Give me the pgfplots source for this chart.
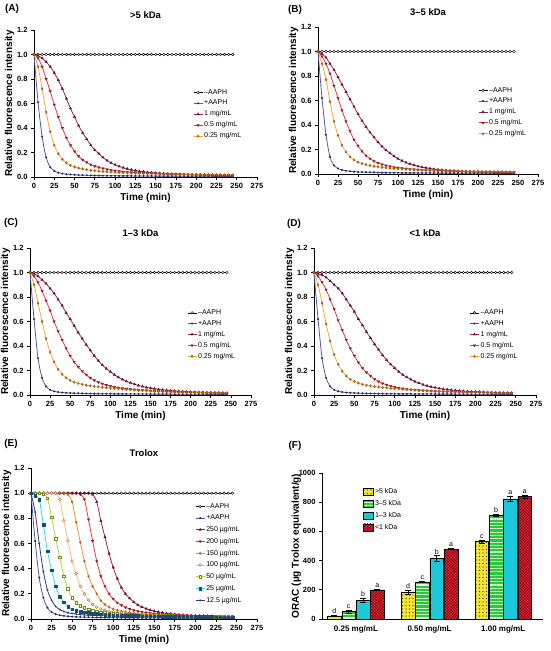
\documentclass[border=0pt]{standalone}
\usepackage{fontspec}
\setmainfont{Liberation Sans}
\usepackage{pgfplots}
\usepackage{pgfplotstable}
\pgfplotsset{compat=1.18}
\usetikzlibrary{patterns.meta}

\definecolor{cpos}{HTML}{5558A0}
\definecolor{cposm}{HTML}{2A2A60}
\definecolor{cone}{HTML}{A3205A}
\definecolor{conem}{HTML}{5C1030}
\definecolor{chalf}{HTML}{EE3340}
\definecolor{chalfm}{HTML}{8A1A20}
\definecolor{cqtr}{HTML}{F5A830}
\definecolor{cqtrm}{HTML}{A0602A}
\definecolor{c250}{HTML}{B5174F}
\definecolor{c250m}{HTML}{5C1030}
\definecolor{c200}{HTML}{EE3340}
\definecolor{c200m}{HTML}{8A1A20}
\definecolor{c150}{HTML}{F5902A}
\definecolor{c150m}{HTML}{C0641E}
\definecolor{c100}{HTML}{F8BC8C}
\definecolor{c100m}{HTML}{B8743A}
\definecolor{c50}{HTML}{B9D13C}
\definecolor{c50m}{HTML}{6E8C1E}
\definecolor{c25}{HTML}{30DDE8}
\definecolor{c25m}{HTML}{1F4A6A}
\definecolor{c12}{HTML}{243F78}
\definecolor{byel}{HTML}{F5E33A}
\definecolor{bgrn}{HTML}{2BC83C}
\definecolor{bcya}{HTML}{1BC9D9}
\definecolor{bred}{HTML}{E0283C}

\pgfplotstableread{
t neg pos one half qtr
0 1 1 1 1 1
5 1 0.61 0.99 0.97 0.90
10 1 0.33 0.97 0.90 0.72
15 1 0.16 0.94 0.80 0.53
20 1 0.08 0.90 0.70 0.37
25 1 0.05 0.85 0.59 0.26
30 1 0.035 0.79 0.49 0.19
35 1 0.028 0.72 0.40 0.145
40 1 0.023 0.64 0.32 0.115
45 1 0.020 0.56 0.26 0.095
50 1 0.018 0.49 0.21 0.082
55 1 0.016 0.42 0.17 0.073
60 1 0.015 0.36 0.14 0.066
65 1 0.014 0.31 0.12 0.060
70 1 0.013 0.26 0.10 0.055
75 1 0.012 0.22 0.088 0.051
80 1 0.011 0.19 0.078 0.048
85 1 0.011 0.16 0.070 0.045
90 1 0.010 0.135 0.063 0.043
95 1 0.010 0.115 0.057 0.041
100 1 0.010 0.100 0.052 0.039
105 1 0.009 0.087 0.048 0.037
110 1 0.009 0.076 0.044 0.035
115 1 0.009 0.067 0.041 0.034
120 1 0.009 0.059 0.038 0.032
125 1 0.008 0.053 0.036 0.031
130 1 0.008 0.047 0.034 0.030
135 1 0.008 0.043 0.032 0.029
140 1 0.008 0.039 0.030 0.028
145 1 0.008 0.036 0.029 0.027
150 1 0.007 0.033 0.027 0.026
155 1 0.007 0.031 0.026 0.025
160 1 0.007 0.029 0.025 0.024
165 1 0.007 0.027 0.024 0.024
170 1 0.007 0.025 0.023 0.023
175 1 0.007 0.024 0.022 0.022
180 1 0.006 0.023 0.021 0.022
185 1 0.006 0.022 0.020 0.021
190 1 0.006 0.021 0.020 0.021
195 1 0.006 0.020 0.019 0.020
200 1 0.006 0.019 0.018 0.020
205 1 0.006 0.018 0.018 0.019
210 1 0.006 0.018 0.017 0.019
215 1 0.006 0.017 0.017 0.018
220 1 0.005 0.016 0.016 0.018
225 1 0.005 0.016 0.016 0.018
230 1 0.005 0.015 0.015 0.017
235 1 0.005 0.015 0.015 0.017
240 1 0.005 0.014 0.015 0.017
245 1 0.005 0.014 0.014 0.016
}\tabA

\pgfplotstableread{
t neg pos one half qtr
0 1 1 1 1 1
5 1 0.62 0.98 0.96 0.90
10 1 0.32 0.95 0.90 0.77
15 1 0.14 0.90 0.82 0.59
20 1 0.07 0.85 0.72 0.43
25 1 0.045 0.79 0.62 0.315
30 1 0.032 0.73 0.52 0.235
35 1 0.026 0.67 0.43 0.18
40 1 0.022 0.61 0.35 0.14
45 1 0.019 0.55 0.28 0.115
50 1 0.017 0.49 0.23 0.097
55 1 0.016 0.435 0.185 0.085
60 1 0.015 0.385 0.15 0.076
65 1 0.014 0.34 0.125 0.069
70 1 0.013 0.30 0.105 0.063
75 1 0.012 0.26 0.090 0.058
80 1 0.011 0.225 0.078 0.054
85 1 0.011 0.195 0.069 0.050
90 1 0.010 0.17 0.062 0.047
95 1 0.010 0.145 0.056 0.045
100 1 0.010 0.125 0.051 0.043
105 1 0.009 0.108 0.047 0.041
110 1 0.009 0.094 0.043 0.039
115 1 0.009 0.082 0.040 0.037
120 1 0.009 0.072 0.037 0.035
125 1 0.008 0.063 0.035 0.033
130 1 0.008 0.056 0.033 0.032
135 1 0.008 0.050 0.031 0.031
140 1 0.008 0.045 0.029 0.030
145 1 0.008 0.040 0.028 0.029
150 1 0.007 0.036 0.026 0.028
155 1 0.007 0.033 0.025 0.027
160 1 0.007 0.030 0.024 0.026
165 1 0.007 0.028 0.023 0.025
170 1 0.007 0.026 0.022 0.024
175 1 0.007 0.024 0.021 0.023
180 1 0.006 0.022 0.020 0.022
185 1 0.006 0.021 0.019 0.022
190 1 0.006 0.020 0.019 0.021
195 1 0.006 0.019 0.018 0.021
200 1 0.006 0.018 0.018 0.020
205 1 0.006 0.017 0.017 0.020
210 1 0.006 0.016 0.017 0.019
215 1 0.006 0.016 0.016 0.019
220 1 0.005 0.015 0.016 0.018
225 1 0.005 0.015 0.015 0.018
230 1 0.005 0.014 0.015 0.018
235 1 0.005 0.014 0.015 0.017
240 1 0.005 0.013 0.014 0.017
245 1 0.005 0.013 0.014 0.016
}\tabB

\pgfplotstableread{
t neg pos one half qtr
0 1 1 1 1 1
5 1 0.62 0.99 0.97 0.90
10 1 0.30 0.97 0.92 0.75
15 1 0.14 0.94 0.85 0.60
20 1 0.07 0.91 0.77 0.46
25 1 0.042 0.87 0.69 0.35
30 1 0.030 0.83 0.60 0.27
35 1 0.024 0.78 0.52 0.21
40 1 0.020 0.73 0.45 0.17
45 1 0.018 0.67 0.38 0.14
50 1 0.016 0.62 0.32 0.12
55 1 0.015 0.565 0.27 0.105
60 1 0.014 0.51 0.23 0.095
65 1 0.013 0.46 0.195 0.087
70 1 0.012 0.41 0.165 0.080
75 1 0.012 0.365 0.14 0.075
80 1 0.011 0.32 0.12 0.070
85 1 0.011 0.28 0.105 0.066
90 1 0.010 0.245 0.092 0.062
95 1 0.010 0.215 0.082 0.059
100 1 0.010 0.19 0.073 0.056
105 1 0.009 0.165 0.066 0.053
110 1 0.009 0.145 0.060 0.050
115 1 0.009 0.127 0.055 0.048
120 1 0.009 0.112 0.051 0.045
125 1 0.008 0.099 0.047 0.043
130 1 0.008 0.088 0.044 0.041
135 1 0.008 0.078 0.041 0.039
140 1 0.008 0.070 0.038 0.037
145 1 0.008 0.062 0.036 0.035
150 1 0.007 0.056 0.034 0.033
155 1 0.007 0.051 0.032 0.031
160 1 0.007 0.046 0.030 0.030
165 1 0.007 0.042 0.028 0.028
170 1 0.007 0.039 0.027 0.027
175 1 0.007 0.036 0.026 0.026
180 1 0.006 0.033 0.025 0.025
185 1 0.006 0.031 0.024 0.024
190 1 0.006 0.029 0.023 0.023
195 1 0.006 0.027 0.022 0.022
200 1 0.006 0.025 0.021 0.021
205 1 0.006 0.024 0.021 0.021
210 1 0.006 0.022 0.020 0.020
215 1 0.006 0.021 0.020 0.020
220 1 0.005 0.020 0.019 0.019
225 1 0.005 0.019 0.019 0.019
230 1 0.005 0.018 0.018 0.018
235 1 0.005 0.018 0.018 0.018
240 1 0.005 0.017 0.017 0.018
245 1 0.005 0.016 0.017 0.017
}\tabC

\pgfplotstableread{
t neg pos one half qtr
0 1 1 1 1 1
5 1 0.62 0.99 0.97 0.90
10 1 0.30 0.98 0.92 0.75
15 1 0.14 0.96 0.86 0.58
20 1 0.07 0.93 0.78 0.44
25 1 0.042 0.90 0.70 0.33
30 1 0.030 0.87 0.61 0.25
35 1 0.024 0.83 0.53 0.195
40 1 0.020 0.78 0.45 0.155
45 1 0.018 0.73 0.38 0.128
50 1 0.016 0.68 0.32 0.110
55 1 0.015 0.62 0.265 0.097
60 1 0.014 0.57 0.22 0.087
65 1 0.013 0.515 0.185 0.080
70 1 0.012 0.465 0.155 0.074
75 1 0.012 0.415 0.13 0.069
80 1 0.011 0.37 0.11 0.065
85 1 0.011 0.325 0.095 0.061
90 1 0.010 0.285 0.083 0.058
95 1 0.010 0.25 0.073 0.055
100 1 0.010 0.22 0.065 0.052
105 1 0.009 0.19 0.058 0.050
110 1 0.009 0.165 0.053 0.047
115 1 0.009 0.145 0.048 0.045
120 1 0.009 0.127 0.044 0.043
125 1 0.008 0.11 0.041 0.041
130 1 0.008 0.097 0.038 0.039
135 1 0.008 0.085 0.036 0.037
140 1 0.008 0.075 0.034 0.035
145 1 0.008 0.067 0.032 0.034
150 1 0.007 0.060 0.030 0.032
155 1 0.007 0.054 0.029 0.031
160 1 0.007 0.049 0.028 0.029
165 1 0.007 0.045 0.027 0.028
170 1 0.007 0.041 0.026 0.027
175 1 0.007 0.038 0.025 0.026
180 1 0.006 0.035 0.024 0.025
185 1 0.006 0.032 0.023 0.024
190 1 0.006 0.030 0.022 0.023
195 1 0.006 0.028 0.021 0.022
200 1 0.006 0.026 0.021 0.021
205 1 0.006 0.025 0.020 0.021
210 1 0.006 0.023 0.020 0.020
215 1 0.006 0.022 0.019 0.020
220 1 0.005 0.021 0.019 0.019
225 1 0.005 0.020 0.018 0.019
230 1 0.005 0.019 0.018 0.018
235 1 0.005 0.018 0.017 0.018
240 1 0.005 0.018 0.017 0.017
245 1 0.005 0.017 0.017 0.017
}\tabD

\pgfplotstableread{
t neg pos a b c d e f g
0 1 1 1 1 1 1 1 1 1
5 1 0.62 1 1 1 1 1 0.98 0.85
10 1 0.33 1 1 1 1 1 0.95 0.60
15 1 0.17 1 1 1 1 0.99 0.75 0.38
20 1 0.09 1 1 1 1 0.96 0.54 0.23
25 1 0.055 1 1 1 1 0.81 0.39 0.15
30 1 0.038 1 1 1 1 0.64 0.26 0.10
35 1 0.030 1 1 1 0.95 0.49 0.18 0.075
40 1 0.025 1 1 1 0.78 0.34 0.135 0.060
45 1 0.021 1 1 0.99 0.62 0.24 0.100 0.050
50 1 0.019 1 1 0.93 0.46 0.17 0.080 0.044
55 1 0.017 1 1 0.77 0.36 0.13 0.068 0.039
60 1 0.016 1 0.99 0.61 0.26 0.105 0.060 0.035
65 1 0.015 1 0.95 0.46 0.20 0.088 0.054 0.032
70 1 0.014 1 0.79 0.34 0.15 0.076 0.049 0.030
75 1 0.013 0.99 0.62 0.26 0.115 0.067 0.045 0.028
80 1 0.012 0.93 0.46 0.20 0.095 0.060 0.042 0.027
85 1 0.012 0.78 0.34 0.145 0.080 0.054 0.039 0.026
90 1 0.011 0.65 0.26 0.115 0.070 0.050 0.036 0.025
95 1 0.011 0.52 0.20 0.095 0.062 0.046 0.034 0.024
100 1 0.010 0.41 0.16 0.080 0.056 0.043 0.032 0.023
105 1 0.010 0.32 0.13 0.070 0.051 0.040 0.031 0.022
110 1 0.010 0.25 0.11 0.062 0.047 0.038 0.029 0.021
115 1 0.009 0.20 0.093 0.056 0.044 0.036 0.028 0.021
120 1 0.009 0.165 0.080 0.051 0.041 0.034 0.027 0.020
125 1 0.009 0.135 0.070 0.047 0.039 0.032 0.026 0.020
130 1 0.009 0.112 0.062 0.044 0.037 0.031 0.025 0.019
135 1 0.008 0.095 0.056 0.041 0.035 0.030 0.024 0.019
140 1 0.008 0.082 0.051 0.038 0.033 0.029 0.024 0.018
145 1 0.008 0.071 0.047 0.036 0.032 0.028 0.023 0.018
150 1 0.008 0.063 0.043 0.034 0.030 0.027 0.022 0.018
155 1 0.008 0.056 0.040 0.032 0.029 0.026 0.022 0.017
160 1 0.007 0.050 0.037 0.031 0.028 0.025 0.021 0.017
165 1 0.007 0.045 0.035 0.029 0.027 0.024 0.021 0.017
170 1 0.007 0.041 0.033 0.028 0.026 0.024 0.020 0.016
175 1 0.007 0.038 0.031 0.027 0.025 0.023 0.020 0.016
180 1 0.007 0.035 0.029 0.026 0.024 0.022 0.019 0.016
185 1 0.007 0.033 0.028 0.025 0.023 0.022 0.019 0.015
190 1 0.006 0.031 0.027 0.024 0.022 0.021 0.019 0.015
195 1 0.006 0.029 0.026 0.023 0.022 0.021 0.018 0.015
200 1 0.006 0.027 0.025 0.022 0.021 0.020 0.018 0.015
205 1 0.006 0.026 0.024 0.022 0.021 0.020 0.018 0.014
210 1 0.006 0.025 0.023 0.021 0.020 0.019 0.017 0.014
215 1 0.006 0.024 0.022 0.020 0.020 0.019 0.017 0.014
220 1 0.005 0.023 0.021 0.020 0.019 0.018 0.017 0.014
225 1 0.005 0.022 0.021 0.019 0.019 0.018 0.016 0.014
230 1 0.005 0.021 0.020 0.019 0.018 0.018 0.016 0.013
235 1 0.005 0.021 0.020 0.018 0.018 0.017 0.016 0.013
240 1 0.005 0.020 0.019 0.018 0.018 0.017 0.016 0.013
245 1 0.005 0.020 0.019 0.018 0.017 0.017 0.015 0.013
}\tabE

\pgfplotstableread{
x y err top lab
0 22 4 26 d
1 182 15 197 d
2 530 10 540 c
}\fA
\pgfplotstableread{
x y err top lab
0 50 10 60 c
1 255 6 261 c
2 710 8 718 b
}\fB
\pgfplotstableread{
x y err top lab
0 128 12 140 b
1 415 18 433 b
2 823 20 843 a
}\fC
\pgfplotstableread{
x y err top lab
0 200 5 205 a
1 478 4 482 a
2 838 12 850 a
}\fD

\pgfplotsset{
  base/.style={
    scale only axis, anchor=south west,
    axis x line*=bottom, axis y line*=left,
    axis line style={line width=0.9pt, black},
    tick align=outside, major tick length=3pt,
    tick style={line width=0.8pt, black},
    tick label style={font=\bfseries\fontsize{7.5}{8.5}\selectfont},
    /pgf/number format/assume math mode=true,
    label style={font=\bfseries\fontsize{10}{12}\selectfont},
    title style={font=\bfseries\fontsize{9.5}{11}\selectfont, yshift=2pt},
    legend style={draw=none, fill=none, font=\fontsize{7}{8}\selectfont,
      inner sep=0pt, row sep=2pt, nodes={inner sep=1.2pt}},
    legend cell align=left,
    clip=false,
  },
  kin/.style={
    base,
    xmin=0, xmax=275, ymin=0, ymax=1.2,
    xtick={0,25,50,75,100,125,150,175,200,225,250,275},
    ytick={0,0.2,0.4,0.6,0.8,1.0,1.2},
    yticklabel style={/pgf/number format/.cd, fixed, fixed zerofill, precision=1, assume math mode=true},
    xlabel={Time (min)}, ylabel={Relative fluorescence intensity},
    xlabel style={yshift=2pt}, ylabel style={yshift=-4pt},
    legend image code/.code={\draw[mark repeat=2,mark phase=2,##1] plot coordinates {(0pt,0pt) (4.5pt,0pt) (9pt,0pt)};},
  },
  negS/.style={black, line width=0.6pt, mark=*, mark size=1.3pt, mark options={fill=white, draw=black, line width=0.4pt}},
  posS/.style={cpos, line width=0.8pt, smooth, mark=*, mark size=0.6pt, mark options={fill=cposm, draw=cposm}},
  oneS/.style={cone, line width=0.8pt, smooth, mark=triangle*, mark size=1.5pt, mark options={fill=conem, draw=conem, line width=0.2pt}},
  halfS/.style={chalf, line width=0.8pt, smooth, mark=triangle*, mark size=1.5pt, mark options={rotate=180, fill=chalfm, draw=chalfm, line width=0.2pt}},
  qtrS/.style={cqtr, line width=0.8pt, smooth, mark=diamond*, mark size=1.4pt, mark options={fill=cqtrm, draw=cqtrm, line width=0.2pt}},
}

\newcommand{\kinplots}[1]{%
  \addplot[negS] table[x=t,y=neg]{#1};
  \addplot[posS] table[x=t,y=pos]{#1};
  \addplot[oneS] table[x=t,y=one]{#1};
  \addplot[halfS] table[x=t,y=half]{#1};
  \addplot[qtrS] table[x=t,y=qtr]{#1};
  \legend{–AAPH,+AAPH,1 mg/mL,0.5 mg/mL,0.25 mg/mL}
}

\begin{document}
\begin{tikzpicture}
\useasboundingbox (0,0) rectangle (550pt,651pt);

% (A)
\begin{axis}[kin, at={(34pt,474pt)}, width=223pt, height=147pt, title={>5 kDa},
  legend style={at={(0.713,0.605)}, anchor=north west}]
\kinplots{\tabA}
\end{axis}

% (B)
\begin{axis}[kin, at={(318pt,477pt)}, width=220pt, height=147pt, title={3–5 kDa},
  legend style={at={(0.727,0.60)}, anchor=north west}]
\kinplots{\tabB}
\end{axis}

% (C)
\begin{axis}[kin, at={(30pt,256pt)}, width=221pt, height=147pt, title={1–3 kDa},
  legend style={at={(0.71,0.59)}, anchor=north west}]
\kinplots{\tabC}
\end{axis}

% (D)
\begin{axis}[kin, at={(314pt,256pt)}, width=222pt, height=147pt, title={<1 kDa},
  legend style={at={(0.70,0.59)}, anchor=north west}]
\kinplots{\tabD}
\end{axis}

% (E)
\begin{axis}[kin, at={(31pt,32pt)}, width=226pt, height=151pt, title={Trolox},
  legend style={at={(0.726,0.775)}, anchor=north west, row sep=2.8pt}]
\addplot[negS] table[x=t,y=neg]{\tabE};
\addplot[posS] table[x=t,y=pos]{\tabE};
\addplot[c250, line width=0.8pt, smooth, mark=triangle*, mark size=1.5pt, mark options={fill=c250m, draw=c250m, line width=0.2pt}] table[x=t,y=a]{\tabE};
\addplot[c200, line width=0.8pt, smooth, mark=triangle*, mark size=1.5pt, mark options={rotate=180, fill=c200m, draw=c200m, line width=0.2pt}] table[x=t,y=b]{\tabE};
\addplot[c150, line width=0.8pt, smooth, mark=diamond*, mark size=1.4pt, mark options={fill=c150m, draw=c150m, line width=0.2pt}] table[x=t,y=c]{\tabE};
\addplot[c100, line width=0.8pt, smooth, mark=*, mark size=1.4pt, mark options={fill=white, draw=c100m, line width=0.5pt}] table[x=t,y=d]{\tabE};
\addplot[c50, line width=0.8pt, smooth, mark=square*, mark size=1.3pt, mark options={fill=white, draw=c50m, line width=0.5pt}] table[x=t,y=e]{\tabE};
\addplot[c25, line width=0.8pt, smooth, mark=square*, mark size=1.3pt, mark options={fill=c25m, draw=c25m, line width=0.2pt}] table[x=t,y=f]{\tabE};
\addplot[c12, line width=0.8pt, smooth, mark=*, mark size=0.5pt, mark options={fill=c12, draw=c12}] table[x=t,y=g]{\tabE};
\legend{–AAPH,+AAPH,250 µg/mL,200 µg/mL,150 µg/mL,100 µg/mL,50 µg/mL,25 µg/mL,12.5 µg/mL}
\end{axis}

% (F)
\begin{axis}[base, at={(322pt,32pt)}, width=221pt, height=146pt,
  ybar, bar width=13.5pt,
  xmin=-0.46, xmax=2.54, ymin=0, ymax=1000,
  xtick={0,1,2}, xticklabels={0.25 mg/mL,0.50 mg/mL,1.00 mg/mL},
  x tick label style={font=\bfseries\fontsize{8}{9}\selectfont},
  xtick style={draw=none},
  ytick={0,200,400,600,800,1000},
  yticklabel style={/pgf/number format/.cd, 1000 sep={}, assume math mode=true},
  ylabel={ORAC (µg Trolox equivalent/g)}, ylabel style={yshift=-9pt},
  legend style={at={(0.186,0.905)}, anchor=north west, row sep=3pt},
  legend image code/.code={\draw[#1] (0pt,-3.5pt) rectangle (10pt,3.5pt);},
  error bars/error bar style={line width=0.6pt, black},
  error bars/error mark options={rotate=90, mark size=3pt, line width=0.6pt, black},
  every node near coord/.append style={font=\fontsize{7}{8}\selectfont, black, inner sep=1.5pt},
]
\addplot[bar shift=-21.45pt, fill=byel, draw=black, line width=0.5pt,
  postaction={pattern={Dots[distance=3.5pt, radius=0.55pt]}, pattern color=black!55!olive},
  error bars/.cd, y dir=both, y explicit]
  table[x=x, y=y, y error=err]{\fA};
\addplot[bar shift=-7.15pt, fill=bgrn, draw=black, line width=0.5pt,
  postaction={pattern={Lines[angle=0, distance=3.3pt, line width=1.1pt]}, pattern color=white!85!green},
  error bars/.cd, y dir=both, y explicit]
  table[x=x, y=y, y error=err]{\fB};
\addplot[bar shift=7.15pt, fill=bcya, draw=black, line width=0.5pt,
  error bars/.cd, y dir=both, y explicit]
  table[x=x, y=y, y error=err]{\fC};
\addplot[bar shift=21.45pt, fill=bred, draw=black, line width=0.5pt,
  postaction={pattern={Hatch[angle=45, distance=2pt, line width=0.3pt]}, pattern color=red!45!black},
  error bars/.cd, y dir=both, y explicit]
  table[x=x, y=y, y error=err]{\fD};
\legend{>5 kDa,3–5 kDa,1–3 kDa,<1 kDa}
\addplot[forget plot, bar shift=-21.45pt, draw=none, fill=none, nodes near coords, point meta=explicit symbolic] table[x=x, y=top, meta=lab]{\fA};
\addplot[forget plot, bar shift=-7.15pt, draw=none, fill=none, nodes near coords, point meta=explicit symbolic] table[x=x, y=top, meta=lab]{\fB};
\addplot[forget plot, bar shift=7.15pt, draw=none, fill=none, nodes near coords, point meta=explicit symbolic] table[x=x, y=top, meta=lab]{\fC};
\addplot[forget plot, bar shift=21.45pt, draw=none, fill=none, nodes near coords, point meta=explicit symbolic] table[x=x, y=top, meta=lab]{\fD};
\end{axis}

\node[font=\bfseries\fontsize{10}{12}\selectfont] at (12pt,642pt) {(A)};
\node[font=\bfseries\fontsize{10}{12}\selectfont] at (295pt,641pt) {(B)};
\node[font=\bfseries\fontsize{10}{12}\selectfont] at (11pt,428pt) {(C)};
\node[font=\bfseries\fontsize{10}{12}\selectfont] at (294pt,427pt) {(D)};
\node[font=\bfseries\fontsize{10}{12}\selectfont] at (11pt,207pt) {(E)};
\node[font=\bfseries\fontsize{10}{12}\selectfont] at (295pt,205pt) {(F)};
\end{tikzpicture}
\end{document}
